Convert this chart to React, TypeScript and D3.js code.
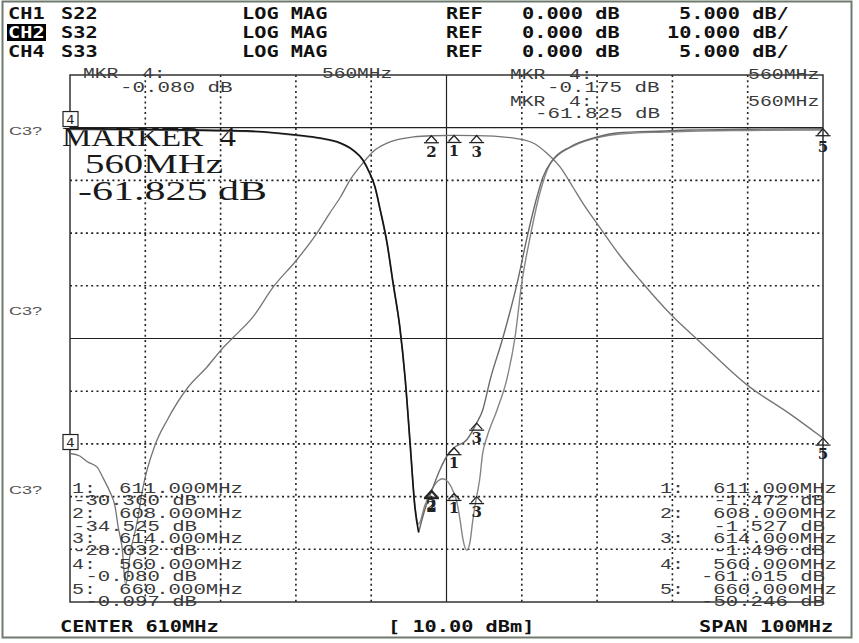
import React from "react";
import * as d3 from "d3";

// ---------- data ----------
const freqStart = 560;
const freqStop = 660;
const divisions = d3.range(0, 11);

const s22Freq = [560, 570, 583.5, 590.1, 593.2, 595.9, 597.6, 598.9, 599.8, 600.5, 601.2, 602.1, 602.9, 603.8, 604.5, 605.2, 605.8, 606.3, 607.1, 608.0, 609.1, 610.1, 611.0, 612.7, 614.0, 614.8, 615.8, 617.5, 619.4, 620.7, 622.0, 622.8, 624.1, 626.4, 630.0, 632.6, 638.8, 642.3, 650, 660];
const s22Db = [-0.08, -0.15, -0.31, -0.69, -0.98, -1.45, -2.12, -3.06, -4.3, -5.6, -7.8, -10.9, -14.7, -18.9, -23.7, -30.3, -36.0, -38.4, -36.3, -34.525, -32.5, -31.1, -30.36, -29.6, -28.032, -26.8, -23.9, -19.9, -14.7, -10.4, -6.6, -4.7, -3.06, -1.83, -0.88, -0.5, -0.31, -0.22, -0.15, -0.097];

const s33Freq = [560, 570, 583.5, 590.1, 593.2, 595.9, 597.6, 598.9, 599.8, 600.5, 601.2, 602.1, 602.9, 603.8, 604.5, 605.2, 605.8, 606.3, 607.1, 608.0, 608.9, 609.5, 610.2, 611.0, 611.4, 611.8, 612.2, 612.7, 613.1, 613.5, 614.0, 614.4, 614.8, 615.4, 616.7, 618.0, 619.1, 620.0, 621.1, 622.4, 623.7, 624.5, 626.8, 630.4, 633.0, 639.0, 643.7, 650, 660];
const s33Db = [-0.175, -0.22, -0.36, -0.74, -1.03, -1.5, -2.18, -3.1, -4.35, -5.65, -7.85, -11.0, -14.8, -19.0, -23.8, -30.2, -35.8, -37.6, -35.9, -34.4, -33.5, -33.3, -33.6, -34.7, -35.6, -37.2, -39.1, -40.1, -39.4, -37.2, -35.0, -33.4, -30.9, -29.3, -26.8, -23.9, -19.9, -14.7, -10.4, -6.2, -3.5, -2.8, -1.74, -0.88, -0.6, -0.41, -0.31, -0.26, -0.22];

const s32Freq = [560, 561.3, 562.3, 563.6, 564.4, 565.3, 566.0, 566.4, 566.9, 567.4, 568.0, 568.9, 569.7, 571.3, 572.9, 575.7, 578.2, 580.3, 581.6, 584.3, 587.0, 590.1, 592.8, 594.5, 595.9, 597.2, 598.9, 600.2, 602.5, 605.6, 608, 611, 614, 618.8, 621.5, 623.3, 625.1, 626.8, 628.1, 630.4, 633.0, 635.7, 639.9, 643.7, 649.9, 655.6, 660];
const s32Db = [-61.825, -62.3, -63.4, -64.4, -66.5, -69.1, -72.0, -75.8, -79.5, -86.8, -80.7, -75.0, -68.2, -60.2, -55.5, -49.2, -45.4, -41.8, -39.9, -35.9, -30.2, -25.1, -20.0, -16.2, -13.2, -9.9, -6.7, -4.6, -2.7, -1.76, -1.527, -1.472, -1.496, -1.95, -2.9, -4.8, -7.5, -11.3, -14.3, -19.0, -24.2, -28.9, -35.6, -40.7, -48.8, -54.3, -58.9];

const markerFreqs = [611, 608, 614, 560, 660];
const markerNames = ["1", "2", "3", "4", "5"];

const headerChannels = ["CH1", "CH2", "CH4"];
const headerParams = ["S22", "S32", "S33"];
const headerFormat = ["LOG MAG", "LOG MAG", "LOG MAG"];
const headerRef = ["0.000 dB", "0.000 dB", "0.000 dB"];
const headerScale = ["5.000 dB/", "10.000 dB/", "5.000 dB/"];

const leftListFreq = ["611.000MHz", "608.000MHz", "614.000MHz", "560.000MHz", "660.000MHz"];
const leftListDb = ["-30.360 dB", "-34.525 dB", "-28.032 dB", "-0.080 dB", "-0.097 dB"];
const rightListFreq = ["611.000MHz", "608.000MHz", "614.000MHz", "560.000MHz", "660.000MHz"];
const rightListDb = ["-1.472 dB", "-1.527 dB", "-1.496 dB", "-61.015 dB", "-50.246 dB"];

// ---------- layout ----------
const W = 859;
const H = 643;
const L = 70, R = 823, T = 75, B = 602;

const x = d3.scaleLinear().domain([freqStart, freqStop]).range([L, R]);
const y5 = d3.scaleLinear().domain([5, -45]).range([T, B]);
const y10 = d3.scaleLinear().domain([10, -90]).range([T, B]);

function interp(fs: number[], vs: number[], f: number) {
  const i = d3.bisectLeft(fs, f);
  if (i <= 0) return vs[0];
  if (i >= fs.length) return vs[vs.length - 1];
  if (fs[i] === f) return vs[i];
  const t = (f - fs[i - 1]) / (fs[i] - fs[i - 1]);
  return vs[i - 1] + t * (vs[i] - vs[i - 1]);
}

function pathOf(fs: number[], vs: number[], ys: d3.ScaleLinear<number, number>) {
  const line = d3
    .line<number>()
    .x((_, i) => x(fs[i]))
    .y((v) => ys(v))
    .curve(d3.curveMonotoneX);
  return line(vs) || "";
}

type STProps = {
  x: number; y: number; t: string; adv: number; anchor?: string; size?: number;
  family?: string; weight?: string; fill?: string;
};
const ST = ({ x, y, t, adv, anchor = "start", size = 15, family = "Liberation Mono", weight = "normal", fill = "#3a3a3a" }: STProps) => (
  <text
    x={x}
    y={y}
    fontFamily={family}
    fontSize={size}
    fontWeight={weight}
    fill={fill}
    textAnchor={anchor as any}
    textLength={t.length * adv}
    lengthAdjust="spacingAndGlyphs"
    style={{ whiteSpace: "pre" }}
  >
    {t}
  </text>
);

const Bold = (p: { x: number; y: number; t: string; fill?: string }) => (
  <ST x={p.x} y={p.y} t={p.t} adv={12.2} size={16} family="DejaVu Sans Mono" weight="bold" fill={p.fill || "#111"} />
);

const Tri = ({ px, py, label, dy = 21 }: { px: number; py: number; label: string; dy?: number }) => (
  <g>
    <path d={`M${px - 5.5},${py + 6} L${px},${py} L${px + 5.5},${py + 6}`} fill="none" stroke="#222" strokeWidth={1.3} />
    <line x1={px - 7.5} x2={px + 7.5} y1={py + 7} y2={py + 7} stroke="#222" strokeWidth={1.3} />
    <text x={px} y={py + dy} textAnchor="middle" fontFamily="DejaVu Serif" fontWeight="bold" fontSize={15} fill="#222">
      {label}
    </text>
  </g>
);

const Box = ({ px, py, label }: { px: number; py: number; label: string }) => (
  <g>
    <rect x={px - 7} y={py - 19} width={15} height={15} fill="white" stroke="#222" strokeWidth={1.2} />
    <text x={px + 0.5} y={py - 6.5} textAnchor="middle" fontFamily="DejaVu Sans" fontSize={13} fill="#222">
      {label}
    </text>
  </g>
);

export default function App() {
  // S22 reads dark where it overlaps S33 (left skirt), lighter after its notch
  const s22Split = d3.bisectLeft(s22Freq, 606.3) + 1;
  const traces = [
    { fs: s32Freq, vs: s32Db, ys: y10, color: "#747474", w: 1.3 },
    { fs: s33Freq, vs: s33Db, ys: y5, color: "#858585", w: 1.4 },
    { fs: s22Freq.slice(s22Split - 1), vs: s22Db.slice(s22Split - 1), ys: y5, color: "#6a6a6a", w: 1.4 },
    { fs: s22Freq.slice(0, s22Split), vs: s22Db.slice(0, s22Split), ys: y5, color: "#151515", w: 1.7 },
  ];

  const vLines = divisions.slice(1, 10).map((i) => x(freqStart + i * 10));
  const hLines = divisions.slice(1, 10).map((j) => y5(5 - j * 5));

  const listRows = [0, 1, 2, 3, 4];
  const labelBase = [493, 518, 543, 569, 594];
  const dbBase = [505, 531, 555, 581, 606];

  const mk = (fs: number[], vs: number[], ys: d3.ScaleLinear<number, number>, k: number) => ({
    px: x(markerFreqs[k]),
    py: ys(interp(fs, vs, markerFreqs[k])),
  });

  return (
    <svg width={W} height={H} style={{ position: "absolute", left: 0, top: 0, background: "white" }}>
      <rect x={0} y={0} width={W} height={H} fill="#ffffff" />
      <rect x={2.5} y={1.5} width={849} height={636} fill="none" stroke="#6f7a6f" strokeWidth={2} />

      {/* header */}
      <rect x={7} y={24} width={39} height={17} fill="#000" />
      {headerChannels.map((c, i) => (
        <g key={c}>
          <Bold x={8} y={19 + i * 19} t={c} fill={i === 1 ? "#fff" : "#111"} />
          <Bold x={61} y={19 + i * 19} t={headerParams[i]} />
          <Bold x={242} y={19 + i * 19} t={headerFormat[i]} />
          <Bold x={446} y={19 + i * 19} t="REF" />
          <Bold x={522} y={19 + i * 19} t={headerRef[i]} />
          <Bold x={headerScale[i].length > 9 ? 667 : 679} y={19 + i * 19} t={headerScale[i]} />
        </g>
      ))}

      {/* grid */}
      {vLines.map((vx, i) => (
        <line key={"v" + i} x1={vx} x2={vx} y1={T} y2={B} stroke="#222"
          strokeWidth={i === 4 ? 1.2 : 1.6} strokeDasharray={i === 4 ? undefined : "2 3.3"} />
      ))}
      {hLines.map((hy, j) => (
        <line key={"h" + j} x1={L} x2={R} y1={hy} y2={hy} stroke="#222"
          strokeWidth={j === 0 || j === 4 ? 1.2 : 1.6} strokeDasharray={j === 0 || j === 4 ? undefined : "2 3.3"} />
      ))}
      <rect x={L} y={T} width={R - L} height={B - T} fill="none" stroke="#333" strokeWidth={1.5} />

      {/* side labels */}
      {[135, 315, 494].map((yy) => (
        <ST key={yy} x={9} y={yy} t="C3?" adv={11} size={11} family="Liberation Sans" fill="#555" />
      ))}

      {/* top marker readouts */}
      <ST x={83} y={78} t="MKR  4:" adv={11.8} />
      <ST x={120} y={92} t="-0.080 dB" adv={12.5} />
      <ST x={322} y={78} t="560MHz" adv={11.7} />
      <ST x={510} y={79} t="MKR  4:" adv={11.8} />
      <ST x={547} y={92} t="-0.175 dB" adv={12.5} />
      <ST x={510} y={106} t="MKR  4:" adv={11.8} />
      <ST x={535} y={118} t="-61.825 dB" adv={12.5} />
      <ST x={748} y={79} t="560MHz" adv={11.9} />
      <ST x={748} y={106} t="560MHz" adv={11.9} />

      {/* big marker readout */}
      <ST x={62} y={146} t="MARKER  4" adv={174 / 9} size={27} family="Liberation Serif" fill="#1a1a1a" />
      <ST x={85} y={173} t="560MHz" adv={138 / 6} size={27} family="Liberation Serif" fill="#1a1a1a" />
      <ST x={78} y={200} t="-61.825 dB" adv={189 / 10} size={27} family="Liberation Serif" fill="#1a1a1a" />

      {/* traces */}
      {traces.map((tr, i) => (
        <path key={i} d={pathOf(tr.fs, tr.vs, tr.ys)} fill="none" stroke={tr.color} strokeWidth={tr.w} strokeLinejoin="round" />
      ))}

      {/* markers */}
      {[0, 1, 2].map((k) => {
        const a = mk(s32Freq, s32Db, y10, k);
        const b = mk(s22Freq, s22Db, y5, k);
        const c = mk(s33Freq, s33Db, y5, k);
        return (
          <g key={"m" + k}>
            <Tri px={a.px} py={a.py} label={markerNames[k]} />
            <Tri px={c.px} py={c.py} label={markerNames[k]} dy={20} />
            <Tri px={b.px} py={b.py} label={markerNames[k]} dy={20} />
          </g>
        );
      })}
      {(() => {
        const a = mk(s32Freq, s32Db, y10, 4);
        const b = mk(s22Freq, s22Db, y5, 4);
        const a4 = mk(s32Freq, s32Db, y10, 3);
        const b4 = mk(s22Freq, s22Db, y5, 3);
        return (
          <g>
            <Tri px={b.px} py={b.py} label={markerNames[4]} dy={23} />
            <Tri px={a.px} py={a.py} label={markerNames[4]} dy={21} />
            <Box px={b4.px} py={b4.py + 2} label={markerNames[3]} />
            <Box px={a4.px} py={a4.py} label={markerNames[3]} />
          </g>
        );
      })()}

      {/* marker lists */}
      {listRows.map((r) => (
        <g key={"l" + r}>
          <ST x={72} y={labelBase[r]} t={markerNames[r] + ":"} adv={12} />
          <ST x={243} y={labelBase[r]} t={leftListFreq[r]} adv={12.4} anchor="end" />
          <ST x={197} y={dbBase[r]} t={leftListDb[r]} adv={12.4} anchor="end" />
          <ST x={660} y={labelBase[r]} t={markerNames[r] + ":"} adv={12} />
          <ST x={837} y={labelBase[r]} t={rightListFreq[r]} adv={12.4} anchor="end" />
          <ST x={825} y={dbBase[r]} t={rightListDb[r]} adv={12.4} anchor="end" />
        </g>
      ))}

      {/* footer */}
      <Bold x={60} y={632} t="CENTER 610MHz" />
      <Bold x={388} y={632} t="[ 10.00 dBm]" />
      <Bold x={699} y={632} t="SPAN 100MHz" />
    </svg>
  );
}
